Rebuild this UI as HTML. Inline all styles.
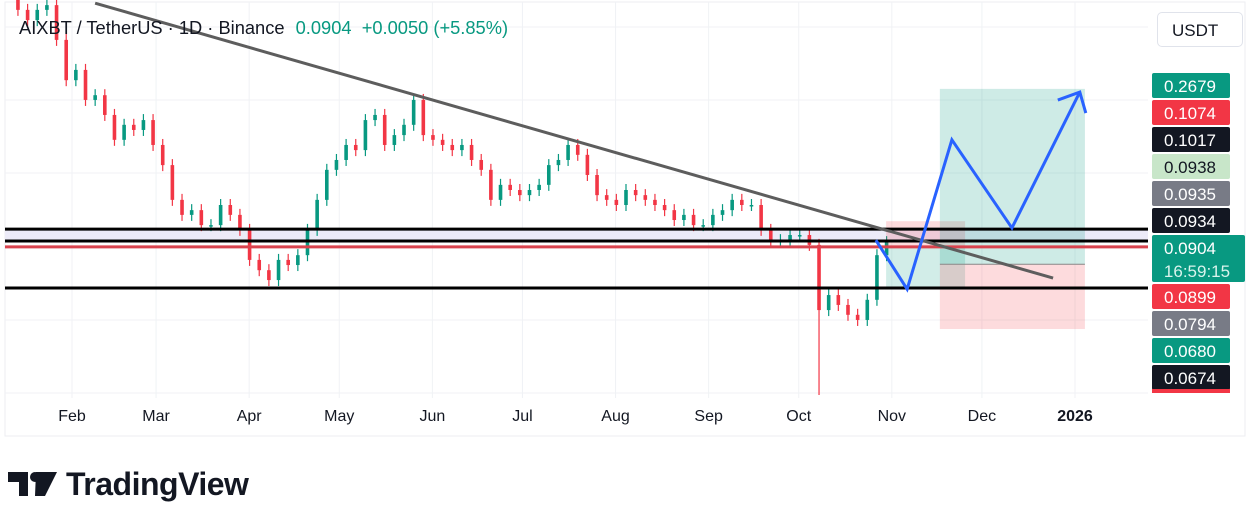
<!DOCTYPE html>
<html><head><meta charset="utf-8">
<style>
body{margin:0;width:1251px;height:506px;background:#fff;overflow:hidden;font-family:"Liberation Sans",sans-serif;}
svg{position:absolute;left:0;top:0;}
</style></head>
<body>
<svg id="chart" width="1251" height="506"></svg>
<script>
// ---- data ----
const monthLabels = ["Feb","Mar","Apr","May","Jun","Jul","Aug","Sep","Oct","Nov","Dec","2026"];
const monthDays = [31,59,90,120,151,181,212,243,273,304,334,365];
const startDay = 13;
const stepDays = 3.214;
const closes = [0.1575,0.1549,0.1575,0.1587,0.1499,0.1397,0.1423,0.1347,0.1359,0.1309,0.1246,0.1284,0.1271,0.1296,0.1233,0.1182,0.1094,0.1056,0.1068,0.1030,0.1030,0.1081,0.1056,0.1018,0.0942,0.0916,0.0891,0.0942,0.0929,0.0954,0.1018,0.1094,0.1170,0.1195,0.1233,0.1220,0.1296,0.1309,0.1233,0.1258,0.1284,0.1347,0.1258,0.1246,0.1233,0.1220,0.1233,0.1195,0.1170,0.1094,0.1132,0.1119,0.1106,0.1119,0.1132,0.1182,0.1195,0.1233,0.1208,0.1157,0.1106,0.1094,0.1081,0.1119,0.1106,0.1094,0.1081,0.1068,0.1043,0.1056,0.1030,0.1030,0.1056,0.1068,0.1094,0.1081,0.1081,0.1018,0.0992,0.0992,0.1005,0.1005,0.0980,0.0815,0.0853,0.0828,0.0803,0.0790,0.0841,0.0954,0.0987];
const firstOpen = 0.1600;
const pMin = 0.06, pMax = 0.16;
const hLevels = [0.1020,0.0990,0.0975,0.0871];
const trendStart = [38.7, 0.1592], trendEnd = [357.7, 0.0896];
const projPath = [[298.7,0.0992],[309.1,0.0868],[324.0,0.1246],[344.0,0.1023],[366.6,0.1367]];
const priceTags = ["0.2679","0.1074","0.1017","0.0938","0.0935","0.0934","0.0904","0.0899","0.0794","0.0680","0.0674"];
const tagColors = ["#089981","#f23645","#131722","#c8e6c9","#787b86","#131722","#089981","#f23645","#787b86","#089981","#131722"];

// ---- scales ----
const x = d => 72 + (d-31)*3.003;
const y = p => 395*(pMax-p)/(pMax-pMin);
const NS="http://www.w3.org/2000/svg";
const svg=document.getElementById('chart');
function mk(tag,attrs,parent){const e=document.createElementNS(NS,tag);for(const k in attrs)e.setAttribute(k,attrs[k]);(parent||svg).appendChild(e);return e;}

const frame=mk('rect',{x:5,y:2,width:1240,height:434,fill:'none',stroke:'#eceef2'});


[27,100,173,247,320,393].forEach(v=>{const g=mk('line',{x1:5,x2:1148,y1:v,y2:v,stroke:'#f0f2f5'});

});
monthDays.forEach((d,i)=>{const g=mk('line',{x1:x(d),x2:x(d),y1:2,y2:398,stroke:'#f0f2f5'});


const t=mk('text',{x:x(d),y:421,'font-size':16,'text-anchor':'middle',fill:'#131722','font-weight':i==11?'bold':'normal'});
t.textContent=monthLabels[i];

});

const band=mk('rect',{x:5,y:y(hLevels[0]),width:1143,height:y(hLevels[1])-y(hLevels[0]),fill:'#ecebf8'});



let prev=firstOpen;
closes.forEach((c,i)=>{const cx=x(startDay+i*stepDays);const up=c>=prev;const col=up?'#089981':'#f23645';
const top=Math.min(y(c),y(prev)),bot=Math.max(y(c),y(prev));
const wk=mk('line',{x1:cx,x2:cx,y1:top-6,y2:(i==83?395:bot+6),stroke:col,'stroke-width':1.2});


const b=mk('rect',{x:cx-1.8,y:top,width:3.6,height:Math.max(1.5,bot-top),fill:col});


prev=c;});

function box(x1,x2,p1,p2,fill,name){const r=mk('rect',{x:x(x1),y:y(p1),width:x(x2)-x(x1),height:y(p2)-y(p1),fill});
}
box(302.1,328.4,0.1040,0.0978,'rgba(242,54,69,0.18)','short-stop-zone');
box(302.1,328.4,0.0978,0.0871,'rgba(8,153,129,0.18)','short-target-zone');
box(320.0,368.3,0.1375,0.0931,'rgba(8,153,129,0.2)','long-target-zone');
box(320.0,368.3,0.0931,0.0767,'rgba(242,54,69,0.18)','long-stop-zone');
const el=mk('line',{x1:x(320),x2:x(368.3),y1:y(0.0931),y2:y(0.0931),stroke:'#888','stroke-width':1});



[[0,'#000',3],[1,'#000',3],[2,'#d9434e',3],[3,'#000',3]].forEach(([i,c,w])=>{const l=mk('line',{x1:5,x2:1148,y1:y(hLevels[i]),y2:y(hLevels[i]),stroke:c,'stroke-width':w});

});

const tl=mk('line',{x1:x(trendStart[0]),y1:y(trendStart[1]),x2:x(trendEnd[0]),y2:y(trendEnd[1]),stroke:'#5d5d5d','stroke-width':3});



const pp=mk('polyline',{points:projPath.map(p=>x(p[0])+','+y(p[1])).join(' '),fill:'none',stroke:'#2962ff','stroke-width':3,'stroke-linejoin':'miter'});


const last=projPath[projPath.length-1];const lx=x(last[0]),ly=y(last[1]);
const ah=mk('polyline',{points:`${lx-22},${ly+8} ${lx},${ly} ${lx+6},${ly+21}`,fill:'none',stroke:'#2962ff','stroke-width':3});



let ty=73;
priceTags.forEach((t,i)=>{const h=i==6?48:26;const w=i==6?93:78;
const r=mk('rect',{x:1152,y:ty,width:w,height:h-1,fill:tagColors[i],rx:2});


const tx=mk('text',{x:1190,y:ty+19,'font-size':17,'text-anchor':'middle',fill:i==3?'#131722':'#fff'});
tx.textContent=t;


if(i==6){const t2=mk('text',{x:1197,y:ty+42,'font-size':17,'text-anchor':'middle',fill:'#d8f3ec'});t2.textContent='16:59:15';

}
ty+=h+1;});
const sl=mk('rect',{x:1152,y:389,width:78,height:4,fill:'#f23645'});


</script>
<div style="position:absolute;left:19px;top:17px;font-size:18.3px;color:#131722;white-space:nowrap;">AIXBT / TetherUS · 1D · Binance <span style="color:#089981;margin-left:6px">0.0904&nbsp; +0.0050 (+5.85%)</span></div>
<div style="position:absolute;left:1157px;top:12px;width:86px;height:35px;border:1px solid #e0e3eb;border-radius:5px;box-sizing:border-box;font-size:17px;line-height:35px;text-indent:14px;color:#131722;">USDT</div>
<div style="position:absolute;left:8px;top:464px;height:40px;display:flex;align-items:center;">
<svg width="50" height="30" style="position:static"><path d="M0 3h20v24h-9v-14h-11z M28 3h21l-12 24h-10z" fill="#131722"/><circle cx="27" cy="8" r="5" fill="#131722"/></svg>
<span style="font-size:32px;font-weight:bold;color:#131722;margin-left:8px;letter-spacing:-0.5px">TradingView</span></div>
</body></html>
